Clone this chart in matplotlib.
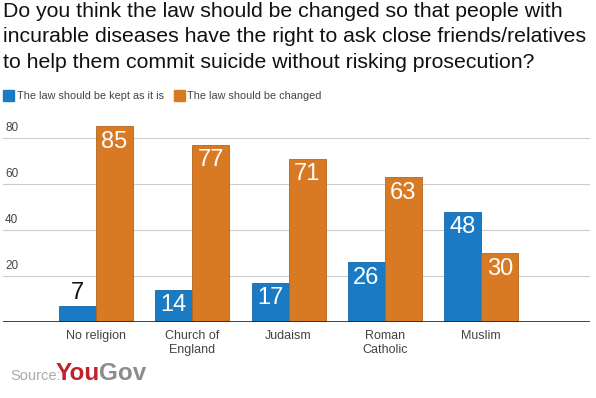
import matplotlib
matplotlib.use("Agg")
import matplotlib.pyplot as plt
import numpy as np

plt.rcParams['font.family'] = ['Liberation Sans', 'DejaVu Sans']

# data
categories = ["No religion", "Church of\nEngland", "Judaism", "Roman\nCatholic", "Muslim"]
kept = [7, 14, 17, 26, 48]
changed = [85, 77, 71, 63, 30]
series_names = ["The law should be kept as it is", "The law should be changed"]
yticks = [20, 40, 60, 80]

blue = "#1a7bc4"
orange = "#d87a24"

fig = plt.figure(figsize=(5.96, 3.98), dpi=100)
ax = fig.add_axes([3 / 596, 76 / 398, 587 / 596, 207 / 398])

x = np.arange(len(categories))
w = 0.385
b1 = ax.bar(x - w / 2, kept, w, color=blue, edgecolor="#1667a6", linewidth=0.6)
b2 = ax.bar(x + w / 2, changed, w, color=orange, edgecolor="#b5651c", linewidth=0.6)

ax.set_xlim(-0.966, 5.13)
ax.set_ylim(0, 90)

# gridlines
for t in yticks:
    ax.axhline(t, color="#cccccc", linewidth=0.8, zorder=0)
    ax.text(-0.945, t + 1.8, str(t), fontsize=8.5, color="#444444", va="bottom", ha="left")
ax.axhline(0, color="#222222", linewidth=1.2, zorder=3)

for s in ax.spines.values():
    s.set_visible(False)
ax.set_xticks([])
ax.set_yticks([])

# value labels
for bars, vals in ((b1, kept), (b2, changed)):
    for r, v in zip(bars, vals):
        cx = r.get_x() + r.get_width() / 2
        if v < 10:
            ax.text(cx, v + 1, str(v), ha="center", va="bottom", fontsize=17, color="#111111")
        else:
            ax.text(cx, v - 2, str(v), ha="center", va="top", fontsize=17, color="white")

# category labels
for xi, c in zip(x, categories):
    ax.text(xi, -3.5, c, ha="center", va="top", fontsize=9, color="#444444", linespacing=1.25)

# title
fig.text(3 / 596, 1 - 2 / 398,
         "Do you think the law should be changed so that people with\n"
         "incurable diseases have the right to ask close friends/relatives\n"
         "to help them commit suicide without risking prosecution?",
         ha="left", va="top", fontsize=15.35, color="#111111", linespacing=1.42)

# legend
fig.patches.append(plt.Rectangle((3 / 596, 1 - 101 / 398), 11 / 596, 11 / 398,
                                 transform=fig.transFigure, color=blue))
fig.text(17 / 596, 1 - 96 / 398, series_names[0], fontsize=7.8, color="#444444", va="center")
fig.patches.append(plt.Rectangle((174 / 596, 1 - 101 / 398), 11 / 596, 11 / 398,
                                 transform=fig.transFigure, color=orange))
fig.text(187 / 596, 1 - 96 / 398, series_names[1], fontsize=7.8, color="#444444", va="center")

# source
fig.text(10 / 596, 1 - 376 / 398, "Source:", fontsize=10.5, color="#aaaaaa", va="center")
fig.text(56 / 596, 1 - 373 / 398, "You", fontsize=17.5, fontweight="bold", color="#c0222b", va="center")
fig.text(99 / 596, 1 - 373 / 398, "Gov", fontsize=17.5, fontweight="bold", color="#8c8c8c", va="center")

fig.savefig("out.png", dpi=100)
